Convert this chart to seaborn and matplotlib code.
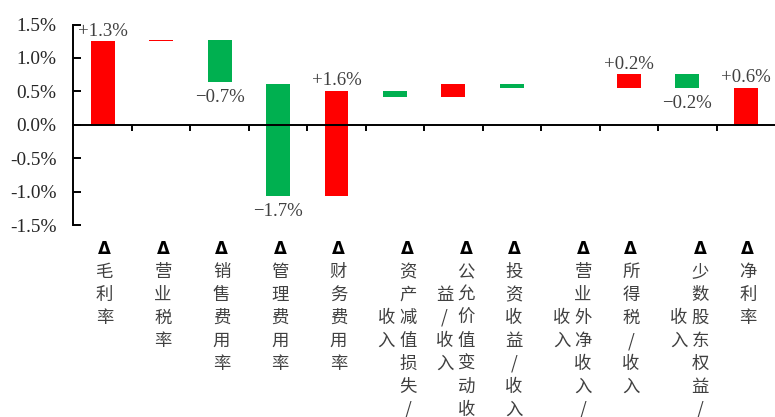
import numpy as np
import pandas as pd
import matplotlib
matplotlib.use("Agg")
import matplotlib.pyplot as plt
import matplotlib.transforms as mtransforms
import seaborn as sns

# ---------------- data ----------------
categories = ["毛利率", "营业税率", "销售费用率", "管理费用率", "财务费用率",
              "资产减值损失/收入", "公允价值变动收益/收入", "投资收益/收入",
              "营业外净收入/收入", "所得税/收入", "少数股东权益/收入", "净利率"]
bar_start = [0.0, 1.25, 1.27, 0.61, -1.065, 0.505, 0.42, 0.61, 0.55, 0.55, 0.758, 0.0]
bar_end = [1.25, 1.27, 0.645, -1.065, 0.51, 0.42, 0.61, 0.55, 0.55, 0.758, 0.554, 0.554]
value_labels = ["+1.3%", "", "−0.7%", "−1.7%", "+1.6%", "", "", "", "",
                "+0.2%", "−0.2%", "+0.6%"]
ytick_values = [1.5, 1.0, 0.5, 0.0, -0.5, -1.0, -1.5]
ytick_labels = ["1.5%", "1.0%", "0.5%", "0.0%", "-0.5%", "-1.0%", "-1.5%"]

RED = "#FF0000"
GREEN = "#00B050"

# ---------------- figure ----------------
sns.set_theme(style="white")
plt.rcParams["axes.unicode_minus"] = False

W, H = 775, 417
fig = plt.figure(figsize=(W / 100, H / 100), dpi=100)
ax_left_px, ax_top_px, ax_bot_px = 73.4, 24.5, 225.0
ax = fig.add_axes([ax_left_px / W, 1 - ax_bot_px / H,
                   1 - ax_left_px / W, (ax_bot_px - ax_top_px) / H])
ax.set_facecolor("white")

df = pd.DataFrame({"cat": categories,
                   "height": np.array(bar_end) - np.array(bar_start),
                   "start": bar_start})

for i, row in df.iterrows():
    color = RED if bar_end[i] >= bar_start[i] else GREEN
    sns.barplot(x=[row["cat"]], y=[row["height"]], order=categories,
                color=color, saturation=1, width=0.41, bottom=row["start"],
                errorbar=None, linewidth=0, ax=ax)

ax.set_xlim(-0.5, len(categories) - 0.5)
ax.set_ylim(-1.5, 1.5)
ax.set_xlabel("")
ax.set_ylabel("")
ax.grid(False)

ax.set_yticks(ytick_values)
ax.set_yticklabels(ytick_labels, fontfamily="Liberation Serif", fontsize=13.9,
                   color="#262626")
ax.set_xticks(np.arange(0.5, len(categories) - 0.5, 1))
ax.set_xticklabels([])
ax.tick_params(axis="y", direction="in", length=6, width=1.4, color="black",
               pad=12, left=True)
ax.tick_params(axis="x", direction="out", length=4, width=1.4, color="black",
               bottom=True)

for s in ("top", "right"):
    ax.spines[s].set_visible(False)
ax.spines["bottom"].set_position(("data", 0))
for s in ("left", "bottom"):
    ax.spines[s].set_linewidth(1.4)
    ax.spines[s].set_color("black")

# value labels
for i, lab in enumerate(value_labels):
    if not lab:
        continue
    if bar_end[i] >= bar_start[i]:
        ax.annotate(lab, xy=(i, bar_end[i]), xytext=(0, 4),
                    textcoords="offset points", ha="center", va="baseline",
                    fontfamily="Liberation Serif", fontsize=13.5, color="#404040")
    else:
        ax.annotate(lab, xy=(i, bar_end[i]), xytext=(0, -5),
                    textcoords="offset points", ha="center", va="top",
                    fontfamily="Liberation Serif", fontsize=13.5, color="#404040")

# vertical category labels (stacked characters, wrapped into columns)
px_per_cat = (W - ax_left_px) / len(categories)
trans = mtransforms.blended_transform_factory(ax.transData, fig.transFigure)
rows_per_col = 8
col_pitch = 21.5
row0_px, row_pitch = 249.0, 23.0
for i, cat in enumerate(categories):
    items = ["Δ"] + list(cat)
    cols = [items[k:k + rows_per_col] for k in range(0, len(items), rows_per_col)]
    ncols = len(cols)
    for j, col in enumerate(cols):
        start_row = 0 if j == 0 else (rows_per_col - len(col)) // 2
        dx_px = 2 + (ncols - 1) / 2 * col_pitch - j * col_pitch
        x = i + dx_px / px_per_cat
        for r, ch in enumerate(col):
            y = 1 - (row0_px + (start_row + r) * row_pitch) / H
            if ch == "Δ":
                ax.text(x, y, ch, transform=trans, ha="center", va="center",
                        fontfamily="DejaVu Sans", fontweight="bold",
                        fontsize=12, color="black", clip_on=False)
            else:
                ax.text(x, y, ch, transform=trans, ha="center", va="center",
                        fontfamily=["Noto Sans CJK SC", "DejaVu Sans"],
                        fontsize=12.5, color="#404040", clip_on=False)

fig.savefig("out.png", dpi=100, facecolor="white")
